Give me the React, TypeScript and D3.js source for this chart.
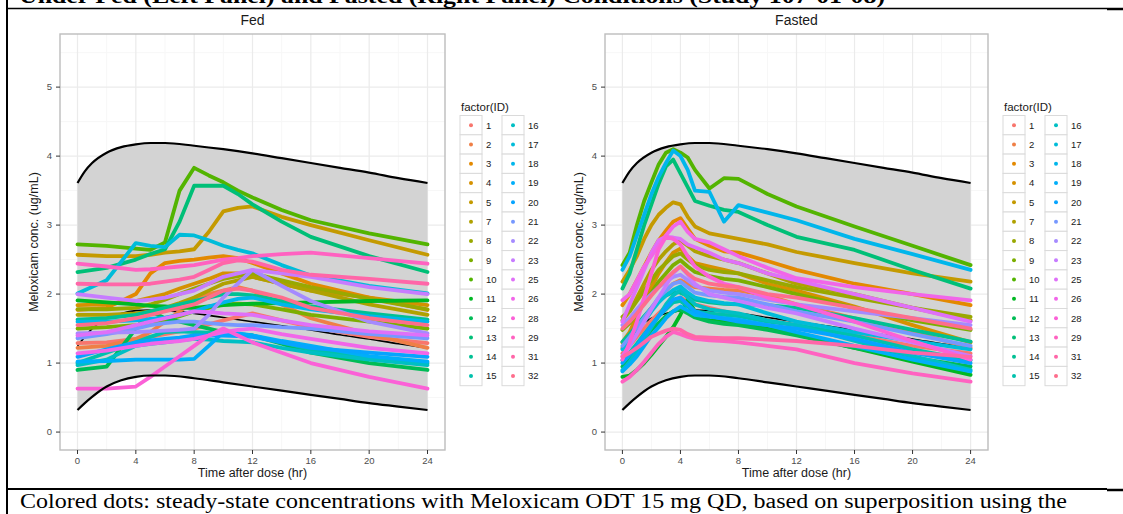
import React from "react";
import * as d3 from "d3";

// ---------- data ----------
const IDS = [1, 2, 3, 4, 5, 7, 8, 9, 10, 11, 12, 13, 14, 15, 16, 17, 18, 19, 20, 21, 22, 23, 25, 26, 28, 29, 31, 32];
const X_TICKS = [0, 4, 8, 12, 16, 20, 24];
const X_MINOR = [2, 6, 10, 14, 18, 22];
const Y_TICKS = [0, 1, 2, 3, 4, 5];
const Y_MINOR = [0.5, 1.5, 2.5, 3.5, 4.5, 5.5];

const BAND_TIMES = [0, 0.5, 1, 2, 3, 4, 5, 6, 8, 10, 12, 14, 16, 18, 20, 22, 24];
const BAND_UPPER = [3.61, 3.78, 3.9, 4.05, 4.13, 4.17, 4.19, 4.19, 4.15, 4.1, 4.04, 3.97, 3.9, 3.83, 3.76, 3.68, 3.61];
const BAND_LOWER = [0.32, 0.42, 0.51, 0.66, 0.75, 0.8, 0.82, 0.82, 0.78, 0.72, 0.66, 0.6, 0.54, 0.48, 0.42, 0.37, 0.32];
const BAND_MEDIAN = [1.25, 1.38, 1.5, 1.65, 1.72, 1.76, 1.77, 1.76, 1.72, 1.66, 1.6, 1.54, 1.48, 1.41, 1.35, 1.28, 1.22];

const FED_TIMES = [0, 2, 4, 5, 6, 7, 8, 9, 10, 11, 12, 14, 16, 20, 24];
const FED_VALUES: number[][] = [
  [1.29, 1.3, 1.35, 1.38, 1.42, 1.46, 1.5, 1.56, 1.62, 1.67, 1.72, 1.62, 1.52, 1.38, 1.29], // 1
  [1.22, 1.25, 1.35, 1.45, 1.6, 1.75, 1.9, 2.0, 2.05, 2.1, 2.05, 1.85, 1.65, 1.42, 1.22], // 2
  [1.77, 1.8, 2.0, 2.3, 2.45, 2.48, 2.5, 2.53, 2.55, 2.52, 2.45, 2.3, 2.15, 1.95, 1.77], // 3
  [1.84, 1.85, 1.9, 1.95, 2.0, 2.08, 2.15, 2.22, 2.3, 2.3, 2.25, 2.15, 2.05, 1.95, 1.84], // 4
  [2.57, 2.55, 2.55, 2.57, 2.6, 2.62, 2.65, 2.9, 3.2, 3.25, 3.27, 3.12, 3.0, 2.78, 2.57], // 5
  [1.7, 1.7, 1.72, 1.75, 1.8, 1.87, 1.95, 2.05, 2.15, 2.2, 2.25, 2.15, 2.05, 1.85, 1.7], // 7
  [1.78, 1.78, 1.8, 1.85, 1.92, 2.0, 2.08, 2.15, 2.22, 2.26, 2.3, 2.2, 2.1, 1.93, 1.78], // 8
  [1.5, 1.52, 1.55, 1.58, 1.62, 1.68, 1.75, 1.8, 1.85, 1.86, 1.85, 1.78, 1.7, 1.6, 1.5], // 9
  [2.72, 2.7, 2.66, 2.64, 2.75, 3.5, 3.83, 3.72, 3.62, 3.5, 3.4, 3.22, 3.07, 2.88, 2.72], // 10
  [1.91, 1.88, 1.85, 1.83, 1.82, 1.8, 1.8, 1.82, 1.84, 1.85, 1.86, 1.87, 1.88, 1.9, 1.91], // 11
  [0.9, 0.95, 1.5, 1.75, 1.65, 1.6, 1.55, 1.5, 1.45, 1.42, 1.4, 1.28, 1.15, 1.0, 0.9], // 12
  [2.32, 2.38, 2.5, 2.58, 2.65, 3.05, 3.57, 3.57, 3.57, 3.45, 3.3, 3.05, 2.83, 2.55, 2.32], // 13
  [1.63, 1.65, 1.7, 1.75, 1.8, 1.85, 1.9, 1.95, 2.0, 2.0, 1.98, 1.9, 1.82, 1.72, 1.63], // 14
  [1.0, 1.15, 1.3, 1.38, 1.45, 1.46, 1.45, 1.44, 1.42, 1.41, 1.4, 1.3, 1.2, 1.08, 1.0], // 15
  [0.97, 1.05, 1.25, 1.28, 1.3, 1.33, 1.35, 1.34, 1.32, 1.31, 1.3, 1.22, 1.15, 1.05, 0.97], // 16
  [2.01, 2.2, 2.74, 2.7, 2.68, 2.86, 2.85, 2.78, 2.7, 2.64, 2.59, 2.42, 2.27, 2.12, 2.01], // 17
  [1.6, 1.6, 1.62, 1.64, 1.66, 1.7, 1.75, 1.82, 1.88, 1.93, 1.95, 1.85, 1.78, 1.68, 1.6], // 18
  [1.02, 1.03, 1.05, 1.05, 1.05, 1.05, 1.06, 1.25, 1.45, 1.43, 1.4, 1.32, 1.25, 1.1, 1.02], // 19
  [1.09, 1.2, 1.3, 1.33, 1.35, 1.37, 1.4, 1.4, 1.4, 1.39, 1.38, 1.3, 1.22, 1.15, 1.09], // 20
  [1.36, 1.42, 1.5, 1.55, 1.58, 1.6, 1.6, 1.58, 1.56, 1.55, 1.55, 1.52, 1.5, 1.42, 1.36], // 21
  [1.43, 1.44, 1.45, 1.46, 1.47, 1.48, 1.5, 1.7, 1.95, 2.15, 2.35, 2.12, 1.9, 1.6, 1.43], // 22
  [2.0, 1.95, 1.9, 1.92, 1.95, 2.0, 2.05, 2.15, 2.25, 2.3, 2.35, 2.3, 2.25, 2.1, 2.0], // 23
  [1.4, 1.45, 1.55, 1.6, 1.65, 1.7, 1.75, 1.74, 1.72, 1.71, 1.7, 1.62, 1.55, 1.46, 1.4], // 25
  [1.14, 1.18, 1.25, 1.28, 1.3, 1.32, 1.35, 1.4, 1.45, 1.48, 1.5, 1.42, 1.35, 1.22, 1.14], // 26
  [0.63, 0.63, 0.66, 0.8, 0.95, 1.1, 1.25, 1.4, 1.5, 1.4, 1.3, 1.15, 1.0, 0.8, 0.63], // 28
  [2.44, 2.4, 2.35, 2.36, 2.38, 2.4, 2.42, 2.46, 2.5, 2.52, 2.55, 2.58, 2.6, 2.52, 2.44], // 29
  [2.15, 2.14, 2.14, 2.15, 2.18, 2.21, 2.25, 2.35, 2.45, 2.49, 2.47, 2.35, 2.28, 2.22, 2.15], // 31
  [1.55, 1.58, 1.65, 1.7, 1.75, 1.8, 1.85, 1.95, 2.05, 2.08, 2.05, 1.95, 1.8, 1.65, 1.55], // 32
];

const FASTED_TIMES = [0, 0.5, 1, 1.5, 2, 2.5, 3, 3.5, 4, 4.5, 5, 6, 7, 8, 10, 12, 16, 20, 24];
const FASTED_VALUES: number[][] = [
  [1.14, 1.25, 1.38, 1.5, 1.62, 1.72, 1.82, 1.9, 1.95, 1.9, 1.85, 1.8, 1.75, 1.7, 1.62, 1.55, 1.4, 1.25, 1.14], // 1
  [1.22, 1.35, 1.5, 1.65, 1.8, 1.92, 2.05, 2.15, 2.2, 2.15, 2.1, 2.08, 2.06, 2.05, 1.98, 1.85, 1.65, 1.45, 1.22], // 2
  [1.84, 2.0, 2.2, 2.4, 2.6, 2.78, 2.92, 3.05, 3.1, 2.95, 2.8, 2.7, 2.62, 2.6, 2.48, 2.35, 2.15, 2.0, 1.84], // 3
  [1.3, 1.45, 1.68, 1.9, 2.1, 2.3, 2.46, 2.6, 2.66, 2.55, 2.45, 2.4, 2.35, 2.3, 2.15, 2.05, 1.82, 1.55, 1.3], // 4
  [2.18, 2.35, 2.55, 2.8, 3.0, 3.15, 3.25, 3.33, 3.3, 3.12, 2.98, 2.88, 2.84, 2.8, 2.72, 2.61, 2.45, 2.3, 2.18], // 5
  [1.62, 1.75, 1.95, 2.15, 2.35, 2.5, 2.62, 2.72, 2.78, 2.7, 2.62, 2.55, 2.5, 2.45, 2.3, 2.15, 2.0, 1.8, 1.62], // 7
  [1.67, 1.75, 1.9, 2.05, 2.2, 2.35, 2.45, 2.55, 2.59, 2.5, 2.42, 2.35, 2.32, 2.3, 2.2, 2.1, 1.95, 1.8, 1.67], // 8
  [1.48, 1.58, 1.72, 1.88, 2.02, 2.18, 2.3, 2.42, 2.49, 2.4, 2.32, 2.26, 2.22, 2.2, 2.1, 2.0, 1.8, 1.62, 1.48], // 9
  [2.42, 2.6, 3.0, 3.35, 3.62, 3.88, 4.05, 4.1, 4.05, 3.98, 3.8, 3.53, 3.68, 3.67, 3.45, 3.27, 2.98, 2.7, 2.42], // 10
  [0.8, 0.82, 0.9, 1.0, 1.12, 1.25, 1.38, 1.52, 1.7, 1.92, 1.75, 1.62, 1.6, 1.58, 1.5, 1.42, 1.22, 1.02, 0.83], // 11
  [0.95, 1.05, 1.2, 1.35, 1.48, 1.58, 1.68, 1.75, 1.78, 1.72, 1.66, 1.6, 1.57, 1.55, 1.48, 1.4, 1.22, 1.08, 0.95], // 12
  [2.08, 2.3, 2.65, 3.0, 3.3, 3.6, 3.85, 3.95, 3.75, 3.55, 3.35, 3.28, 3.22, 3.19, 3.0, 2.83, 2.64, 2.35, 2.08], // 13
  [1.31, 1.42, 1.55, 1.68, 1.8, 1.9, 1.98, 2.03, 2.02, 1.97, 1.92, 1.88, 1.86, 1.85, 1.84, 1.8, 1.65, 1.48, 1.31], // 14
  [1.04, 1.15, 1.28, 1.42, 1.55, 1.68, 1.78, 1.88, 1.9, 1.82, 1.75, 1.72, 1.7, 1.68, 1.6, 1.55, 1.4, 1.2, 1.04], // 15
  [0.9, 1.02, 1.18, 1.35, 1.52, 1.68, 1.85, 1.98, 2.06, 1.95, 1.85, 1.78, 1.75, 1.72, 1.62, 1.55, 1.32, 1.1, 0.9], // 16
  [1.2, 1.32, 1.45, 1.6, 1.75, 1.88, 1.98, 2.06, 2.11, 2.02, 1.95, 1.9, 1.87, 1.85, 1.72, 1.6, 1.45, 1.32, 1.2], // 17
  [2.35, 2.55, 2.85, 3.15, 3.45, 3.7, 3.9, 4.08, 4.0, 3.8, 3.5, 3.48, 3.05, 3.29, 3.18, 3.07, 2.8, 2.58, 2.35], // 18
  [0.88, 0.98, 1.1, 1.25, 1.4, 1.52, 1.65, 1.75, 1.82, 1.76, 1.7, 1.67, 1.65, 1.63, 1.55, 1.45, 1.25, 1.05, 0.88], // 19
  [1.0, 1.12, 1.25, 1.4, 1.55, 1.68, 1.8, 1.92, 1.95, 1.85, 1.75, 1.68, 1.64, 1.6, 1.55, 1.5, 1.35, 1.15, 1.0], // 20
  [1.25, 1.38, 1.52, 1.66, 1.8, 1.95, 2.05, 2.15, 2.18, 2.1, 2.02, 1.98, 1.96, 1.95, 1.85, 1.75, 1.6, 1.42, 1.25], // 21
  [1.55, 1.65, 1.78, 1.9, 2.0, 2.1, 2.18, 2.25, 2.28, 2.2, 2.12, 2.05, 2.02, 2.0, 1.92, 1.85, 1.75, 1.65, 1.55], // 22
  [1.1, 1.25, 1.42, 1.6, 1.78, 1.95, 2.12, 2.3, 2.4, 2.28, 2.15, 2.0, 1.95, 1.9, 1.8, 1.72, 1.5, 1.3, 1.1], // 23
  [1.6, 1.85, 2.1, 2.35, 2.6, 2.78, 2.83, 2.82, 2.8, 2.72, 2.68, 2.6, 2.5, 2.45, 2.3, 2.2, 2.0, 1.8, 1.6], // 25
  [1.91, 2.0, 2.2, 2.4, 2.55, 2.7, 2.85, 2.98, 3.05, 2.9, 2.8, 2.75, 2.65, 2.55, 2.38, 2.23, 2.1, 2.0, 1.91], // 26
  [1.05, 1.3, 1.6, 1.95, 2.3, 2.65, 2.83, 2.8, 2.72, 2.55, 2.4, 2.25, 2.15, 2.1, 1.95, 1.85, 1.6, 1.32, 1.05], // 28
  [0.73, 0.8, 0.9, 1.02, 1.15, 1.28, 1.38, 1.45, 1.42, 1.38, 1.35, 1.33, 1.32, 1.3, 1.25, 1.2, 1.0, 0.85, 0.73], // 29
  [1.09, 1.15, 1.22, 1.3, 1.38, 1.43, 1.47, 1.5, 1.48, 1.42, 1.38, 1.37, 1.36, 1.36, 1.34, 1.32, 1.25, 1.15, 1.09], // 31
  [1.5, 1.6, 1.72, 1.85, 1.98, 2.1, 2.22, 2.32, 2.4, 2.3, 2.22, 2.15, 2.12, 2.1, 2.0, 1.95, 1.8, 1.65, 1.5], // 32
];

const TITLE_TOP = "Under Fed (Left Panel) and Fasted (Right Panel) Conditions (Study 107-01-08)";
const CAPTION = "Colored dots: steady-state concentrations with Meloxicam ODT 15 mg QD, based on superposition using the";

// ---------- colour (ggplot hue palette, polar LUV) ----------
function hclLuv(h: number, c: number, l: number): string {
  const Xn = 95.047, Yn = 100.0, Zn = 108.883;
  const den = Xn + 15 * Yn + 3 * Zn;
  const un = (4 * Xn) / den, vn = (9 * Yn) / den;
  const hr = (h * Math.PI) / 180;
  const U = c * Math.cos(hr), V = c * Math.sin(hr);
  const Y = Yn * (l > 8 ? Math.pow((l + 16) / 116, 3) : l / 903.3);
  const u = U / (13 * l) + un;
  const v = V / (13 * l) + vn;
  const X = (9 * Y * u) / (4 * v);
  const Z = -X / 3 - 5 * Y + (3 * Y) / v;
  const x = X / 100, y = Y / 100, z = Z / 100;
  const lin = [
    3.240479 * x - 1.53715 * y - 0.498535 * z,
    -0.969256 * x + 1.875992 * y + 0.041556 * z,
    0.055648 * x - 0.204043 * y + 1.057311 * z,
  ];
  const g = lin.map((t) => {
    const s = t <= 0.0031308 ? 12.92 * t : 1.055 * Math.pow(t, 1 / 2.4) - 0.055;
    return Math.round(Math.max(0, Math.min(1, s)) * 255);
  });
  return `rgb(${g[0]},${g[1]},${g[2]})`;
}
const COLORS = IDS.map((_, i) => hclLuv(15 + (360 * i) / IDS.length, 100, 65));

// ---------- layout ----------
const W = 1123, H = 514;
const PT = 34, PB = 450;
const SANS = "'Liberation Sans', Arial, Helvetica, sans-serif";
const SERIF = "'Liberation Serif', 'Times New Roman', serif";

function Panel({ left, right, title, times, values, legendX }: any) {
  const x = d3.scaleLinear().domain([-1.2, 25.2]).range([left, right]);
  const y = d3.scaleLinear().domain([-0.26, 5.77]).range([PB, PT]);
  const area = d3
    .area<number>()
    .x((_, i) => x(BAND_TIMES[i]))
    .y0((_, i) => y(BAND_LOWER[i]))
    .y1((d) => y(d))
    .curve(d3.curveMonotoneX);
  const bandLine = d3
    .line<number>()
    .x((_, i) => x(BAND_TIMES[i]))
    .y((d) => y(d))
    .curve(d3.curveMonotoneX);
  const subjLine = d3
    .line<number>()
    .x((_, i) => x(times[i]))
    .y((d) => y(d));
  const midY = (PT + PB) / 2;
  const cx = (left + right) / 2;
  return (
    <g>
      <text x={cx} y={25} textAnchor="middle" fontFamily={SANS} fontSize={14} fill="#1a1a1a">
        {title}
      </text>
      <rect x={left} y={PT} width={right - left} height={PB - PT} fill="#fff" />
      {X_MINOR.map((t) => (
        <line key={"xm" + t} x1={x(t)} x2={x(t)} y1={PT} y2={PB} stroke="#F7F7F7" strokeWidth={1} />
      ))}
      {Y_MINOR.map((t) => (
        <line key={"ym" + t} x1={left} x2={right} y1={y(t)} y2={y(t)} stroke="#F7F7F7" strokeWidth={1} />
      ))}
      {X_TICKS.map((t) => (
        <line key={"xg" + t} x1={x(t)} x2={x(t)} y1={PT} y2={PB} stroke="#EBEBEB" strokeWidth={1.2} />
      ))}
      {Y_TICKS.map((t) => (
        <line key={"yg" + t} x1={left} x2={right} y1={y(t)} y2={y(t)} stroke="#EBEBEB" strokeWidth={1.2} />
      ))}
      <path d={area(BAND_UPPER) || ""} fill="#D3D3D3" />
      <path d={bandLine(BAND_MEDIAN) || ""} fill="none" stroke="#000" strokeWidth={1.6} />
      {values.map((row: number[], k: number) => (
        <path
          key={"s" + k}
          d={subjLine(row) || ""}
          fill="none"
          stroke={COLORS[k]}
          strokeWidth={3.8}
          strokeLinejoin="round"
          strokeLinecap="round"
        />
      ))}
      <path d={bandLine(BAND_UPPER) || ""} fill="none" stroke="#000" strokeWidth={2.2} />
      <path d={bandLine(BAND_LOWER) || ""} fill="none" stroke="#000" strokeWidth={2.2} />
      <rect x={left} y={PT} width={right - left} height={PB - PT} fill="none" stroke="#BDBDBD" strokeWidth={1.4} />
      {Y_TICKS.map((t) => (
        <g key={"yt" + t}>
          <line x1={left - 4} x2={left} y1={y(t)} y2={y(t)} stroke="#333" strokeWidth={1} />
          <text x={left - 8} y={y(t) + 3.3} textAnchor="end" fontFamily={SANS} fontSize={9.5} fill="#4d4d4d">
            {t}
          </text>
        </g>
      ))}
      {X_TICKS.map((t) => (
        <g key={"xt" + t}>
          <line x1={x(t)} x2={x(t)} y1={PB} y2={PB + 4} stroke="#333" strokeWidth={1} />
          <text x={x(t)} y={PB + 14} textAnchor="middle" fontFamily={SANS} fontSize={9.5} fill="#4d4d4d">
            {t}
          </text>
        </g>
      ))}
      <text x={cx} y={PB + 27} textAnchor="middle" fontFamily={SANS} fontSize={12.5} fill="#1a1a1a">
        Time after dose (hr)
      </text>
      <text
        transform={`translate(${left - 22},${midY}) rotate(-90)`}
        textAnchor="middle"
        fontFamily={SANS}
        fontSize={12.5}
        fill="#1a1a1a"
      >
        Meloxicam conc. (ug/mL)
      </text>
      <text x={legendX + 1} y={111} fontFamily={SANS} fontSize={11.5} fill="#1a1a1a">
        factor(ID)
      </text>
      {IDS.map((id, i) => {
        const col = Math.floor(i / 14);
        const row = i % 14;
        const kx = legendX + col * 42;
        const ky = 115.5 + row * 19.3;
        return (
          <g key={"lg" + id}>
            <rect x={kx} y={ky} width={22} height={19.3} fill="#fff" stroke="#DADADA" strokeWidth={1} />
            <circle cx={kx + 11} cy={ky + 9.65} r={2} fill={COLORS[i]} />
            <text x={kx + 26} y={ky + 13} fontFamily={SANS} fontSize={9.5} fill="#1a1a1a">
              {id}
            </text>
          </g>
        );
      })}
    </g>
  );
}

export default function App() {
  return (
    <svg
      width={W}
      height={H}
      viewBox={`0 0 ${W} ${H}`}
      style={{ position: "absolute", left: 0, top: 0, background: "#fff" }}
    >
      <rect x={0} y={0} width={W} height={H} fill="#fff" />
      <text x={19} y={3} fontFamily={SERIF} fontWeight="bold" fontSize={21} textLength={866} lengthAdjust="spacingAndGlyphs">
        {TITLE_TOP}
      </text>
      <line x1={6} x2={1107} y1={8.5} y2={8.5} stroke="#000" strokeWidth={1.5} />
      <line x1={1107} x2={W} y1={9} y2={9} stroke="#000" strokeWidth={2.5} />
      <line x1={6} x2={1107} y1={489} y2={489} stroke="#000" strokeWidth={2} />
      <line x1={1107} x2={W} y1={490} y2={490} stroke="#000" strokeWidth={2.5} />
      <line x1={7} x2={7} y1={0} y2={H} stroke="#000" strokeWidth={2} />
      <Panel left={60} right={445} title="Fed" times={FED_TIMES} values={FED_VALUES} legendX={460} />
      <Panel left={605} right={988} title="Fasted" times={FASTED_TIMES} values={FASTED_VALUES} legendX={1003} />
      <text x={20} y={508} fontFamily={SERIF} fontSize={20.5} fill="#000" textLength={1047} lengthAdjust="spacingAndGlyphs">
        {CAPTION}
      </text>
    </svg>
  );
}
